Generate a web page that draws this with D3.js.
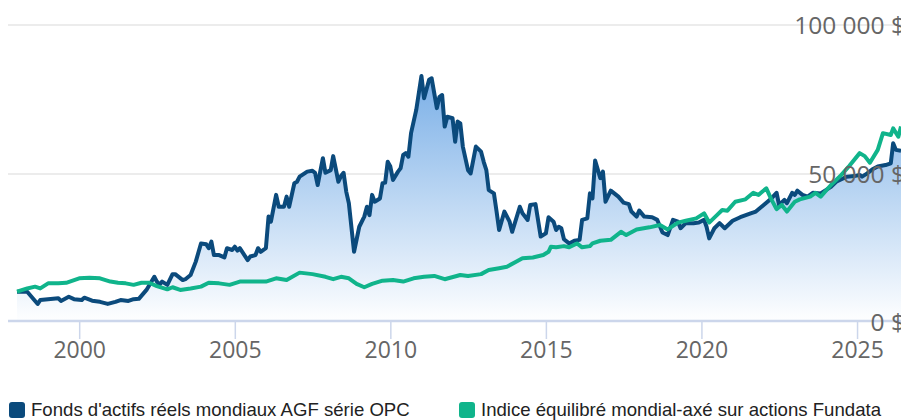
<!DOCTYPE html>
<html>
<head>
<meta charset="utf-8">
<script src="https://cdn.jsdelivr.net/npm/d3@7"></script>
<style>
  html, body { margin: 0; padding: 0; background: #fff; overflow: hidden; }
</style>
</head>
<body>
<div id="chart"></div>
<script>
// series names
const seriesNames = [
  "Fonds d'actifs réels mondiaux AGF série OPC",
  "Indice équilibré mondial-axé sur actions Fundata"
];

// fund (blue line + area)
const fundDates = ["1998-01","1998-05","1998-09","1998-10","1999-05","1999-06","1999-09","1999-11","2000-02","2000-03",
  "2000-06","2000-09","2000-12","2001-03","2001-05","2001-08","2001-10","2001-12","2002-03","2002-06",
  "2002-07","2002-08","2002-09","2002-11","2003-01","2003-02","2003-05","2003-06","2003-08","2003-10",
  "2003-12","2004-02","2004-03","2004-04","2004-05","2004-07","2004-09","2004-10","2004-12","2005-01",
  "2005-02","2005-03","2005-06","2005-07","2005-09","2005-10","2005-11","2006-01","2006-02","2006-03",
  "2006-05","2006-06","2006-08","2006-09","2006-10","2006-12","2007-01","2007-02","2007-05","2007-07",
  "2007-08","2007-09","2007-10","2007-11","2007-12","2008-02","2008-03","2008-05","2008-06","2008-07",
  "2008-08","2008-09","2008-11","2009-01","2009-03","2009-04","2009-05","2009-06","2009-07","2009-09",
  "2009-10","2009-11","2009-12","2010-01","2010-02","2010-04","2010-05","2010-06","2010-07","2010-08",
  "2010-09","2010-11","2010-12","2011-01","2011-02","2011-04","2011-05","2011-07","2011-08","2011-09",
  "2011-10","2011-11","2012-01","2012-02","2012-03","2012-04","2012-05","2012-07","2012-08","2012-10",
  "2012-12","2013-01","2013-02","2013-03","2013-05","2013-06","2013-07","2013-09","2013-11","2013-12",
  "2014-03","2014-04","2014-06","2014-07","2014-09","2014-11","2015-01","2015-02","2015-04","2015-05",
  "2015-06","2015-07","2015-08","2015-10","2015-12","2016-02","2016-03","2016-05","2016-06","2016-07",
  "2016-08","2016-10","2016-11","2016-12","2017-02","2017-05","2017-07","2017-09","2017-10","2017-12",
  "2018-01","2018-03","2018-06","2018-08","2018-10","2018-12","2019-02","2019-04","2019-05","2019-07",
  "2019-10","2019-12","2020-02","2020-03","2020-04","2020-06","2020-08","2020-10","2021-01","2021-04",
  "2021-08","2021-10","2022-01","2022-04","2022-06","2022-07","2022-09","2022-10","2022-12","2023-01",
  "2023-02","2023-04","2023-06","2023-08","2023-11","2024-03","2024-05","2024-09","2024-12","2025-02",
  "2025-03","2025-05","2025-07","2025-09","2025-12","2026-02","2026-03","2026-04","2026-06"];
const fundValues = [10500,10500,6400,7700,8300,7400,8800,8000,7700,8500,
  7500,7100,6400,7100,7700,7400,8000,8100,11100,15500,
  13900,12800,13900,12800,16400,16400,14400,14700,16100,20600,
  26700,26400,25100,27300,22800,22800,22000,25100,24500,25600,
  24300,25100,21100,22300,22800,25100,23900,25100,35700,34000,
  43000,39000,39000,42400,39000,46900,47400,49100,50800,51100,
  50400,46300,50800,55300,50400,51300,56000,47400,49300,50400,
  44100,40200,23900,32300,35700,39000,36200,43000,40700,41800,
  46900,47100,54100,52500,48000,50800,51900,56400,57000,55800,
  63700,71500,77100,82900,75400,81600,82100,72100,75900,76500,
  65900,69200,68700,60800,67600,67000,59200,51300,50200,59200,
  57500,54100,51300,44600,43500,37400,31200,37400,34000,30600,
  39000,36800,34600,39600,39900,29000,30100,35500,34000,31200,
  32300,31800,28100,26700,27600,27900,34600,35100,43500,41800,
  54500,48600,50800,40700,44400,42400,40400,39900,37400,35700,
  37700,35700,35500,34600,30400,29500,34600,34000,31800,33500,
  33500,33700,34600,32300,28400,31800,33500,31800,34300,35500,
  36800,37400,39600,41800,43700,39600,41300,40200,43700,43000,
  44400,43000,42400,43700,43500,45700,47400,49100,49300,49700,
  49100,50200,51600,52500,53000,53600,60300,58100,57800];

// benchmark index (green line)
const indexDates = ["1998-01","1998-05","1998-08","1998-10","1999-01","1999-05","1999-08","2000-01","2000-05","2000-09",
  "2001-01","2001-04","2001-07","2001-10","2002-01","2002-04","2002-07","2002-11","2003-01","2003-04",
  "2003-08","2003-12","2004-03","2004-07","2004-11","2005-03","2005-08","2006-01","2006-05","2006-09",
  "2007-02","2007-07","2007-12","2008-03","2008-06","2008-09","2008-12","2009-03","2009-06","2009-10",
  "2010-02","2010-06","2010-10","2011-02","2011-06","2011-10","2012-04","2012-07","2012-12","2013-03",
  "2013-07","2013-10","2014-02","2014-04","2014-08","2014-12","2015-02","2015-03","2015-05","2015-08",
  "2015-10","2016-01","2016-03","2016-06","2016-07","2016-10","2017-02","2017-06","2017-08","2017-12",
  "2018-05","2018-09","2018-12","2019-04","2019-07","2019-11","2020-02","2020-04","2020-07","2020-09",
  "2020-11","2021-02","2021-06","2021-09","2021-11","2022-02","2022-04","2022-06","2022-08","2022-10",
  "2023-01","2023-03","2023-07","2023-09","2023-11","2024-03","2024-07","2024-10","2025-02","2025-04",
  "2025-06","2025-09","2025-11","2026-02","2026-03","2026-05","2026-06"];
const indexValues = [10500,11600,12200,11600,13300,13300,13500,15000,15200,15000,
  13900,13500,13300,12800,13500,13500,12400,11300,12000,11100,
  11600,12200,13500,13300,12800,13900,13900,13900,15000,14400,
  16900,16400,15500,14700,15500,15000,13100,12000,13100,14200,
  14400,13900,15000,15500,15800,14700,16100,15800,16400,17800,
  18400,18900,20800,21700,22000,22800,23900,25600,25400,25800,
  25400,26700,25400,25800,26700,27600,27900,30600,29500,31400,
  32100,32900,31400,33700,34300,35100,36800,33700,36200,37900,
  37700,40700,41500,43700,43000,45200,41500,38200,39600,37400,
  40700,41500,42400,43700,42400,46300,49700,52700,57000,56000,
  53800,58100,63700,63100,65300,62500,65900];

const yTicks = [0, 50000, 100000];
const xTickYears = [2000, 2005, 2010, 2015, 2020, 2025];

// layout
const width = 901, height = 420;
const plotLeft = 8, plotBottom = 321;
const blue = "#0b4a7c", green = "#10b48b";

const parse = d3.utcParse("%Y-%m");
const fund = fundDates.map((d, i) => ({date: parse(d), value: fundValues[i]}));
const index = indexDates.map((d, i) => ({date: parse(d), value: indexValues[i]}));

const x = d3.scaleUtc()
    .domain([parse("1998-01"), parse("2026-06")])
    .range([17, 901]);
const y = d3.scaleLinear()
    .domain([0, 100000])
    .range([323, 25]);

const fr = d3.formatLocale({decimal: ",", thousands: "\u00a0", grouping: [3], currency: ["", "\u00a0$"]});
const money = fr.format("$,.0f");

const svg = d3.select("#chart").append("svg")
    .attr("width", width)
    .attr("height", height)
    .attr("viewBox", [0, 0, width, height]);

const defs = svg.append("defs");
const grad = defs.append("linearGradient")
    .attr("id", "areaFill")
    .attr("x1", 0).attr("y1", 0).attr("x2", 0).attr("y2", 1);
grad.append("stop").attr("offset", 0).attr("stop-color", "#7aafe7");
grad.append("stop").attr("offset", 1).attr("stop-color", "#ffffff");

defs.append("clipPath")
    .attr("id", "plotClip")
  .append("rect")
    .attr("x", plotLeft).attr("y", 0)
    .attr("width", width - plotLeft).attr("height", plotBottom);

// gridlines
svg.append("g")
  .selectAll("line")
  .data(yTicks.filter(d => d > 0))
  .join("line")
    .attr("x1", plotLeft).attr("x2", width)
    .attr("y1", d => y(d)).attr("y2", d => y(d))
    .attr("stroke", "#e6e6e6")
    .attr("stroke-width", 1.5);

const plot = svg.append("g").attr("clip-path", "url(#plotClip)");

const area = d3.area()
    .x(d => x(d.date))
    .y0(y(0))
    .y1(d => y(d.value));

const line = d3.line()
    .x(d => x(d.date))
    .y(d => y(d.value));

plot.append("path")
    .attr("d", area(fund))
    .attr("fill", "url(#areaFill)");

plot.append("path")
    .attr("d", line(fund))
    .attr("fill", "none")
    .attr("stroke", blue)
    .attr("stroke-width", 4)
    .attr("stroke-linejoin", "round");

plot.append("path")
    .attr("d", line(index))
    .attr("fill", "none")
    .attr("stroke", green)
    .attr("stroke-width", 4)
    .attr("stroke-linejoin", "round");

// x axis
const xAxis = d3.axisBottom(x)
    .tickValues(xTickYears.map(yr => new Date(Date.UTC(yr, 0, 1))))
    .tickFormat(d3.utcFormat("%Y"))
    .tickSize(18)
    .tickPadding(3)
    .tickSizeOuter(0);

svg.append("g")
    .attr("transform", `translate(0,${plotBottom})`)
    .call(xAxis)
    .call(g => g.select(".domain").remove())
    .call(g => g.selectAll(".tick line").attr("stroke", "#ccd6eb").attr("stroke-width", 1.5))
    .call(g => g.selectAll(".tick text")
      .attr("fill", "#666")
      .attr("font-family", "'Open Sans', sans-serif")
      .attr("font-size", 23));

svg.append("line")
    .attr("x1", plotLeft).attr("x2", width)
    .attr("y1", plotBottom).attr("y2", plotBottom)
    .attr("stroke", "#ccd6eb")
    .attr("stroke-width", 2.5);

// y labels sit on the right, over the lines
svg.append("g")
  .selectAll("text")
  .data(yTicks)
  .join("text")
    .attr("x", 905)
    .attr("y", d => d === 0 ? 322 : y(d))
    .attr("dy", "0.36em")
    .attr("text-anchor", "end")
    .attr("fill", "#666")
    .attr("font-family", "'Open Sans', sans-serif")
    .attr("font-size", 24.5)
    .text(d => money(d));

// legend
const legend = svg.append("g")
  .selectAll("g")
  .data(seriesNames)
  .join("g")
    .attr("transform", (d, i) => `translate(${i ? 459 : 9},402)`);

legend.append("rect")
    .attr("width", 16).attr("height", 16)
    .attr("rx", 3)
    .attr("fill", (d, i) => i ? green : blue);

legend.append("text")
    .attr("x", 22)
    .attr("y", 14)
    .attr("fill", "#222")
    .attr("font-family", "'Liberation Sans', Arial, sans-serif")
    .attr("font-size", 18.6)
    .text(d => d);
</script>
</body>
</html>
